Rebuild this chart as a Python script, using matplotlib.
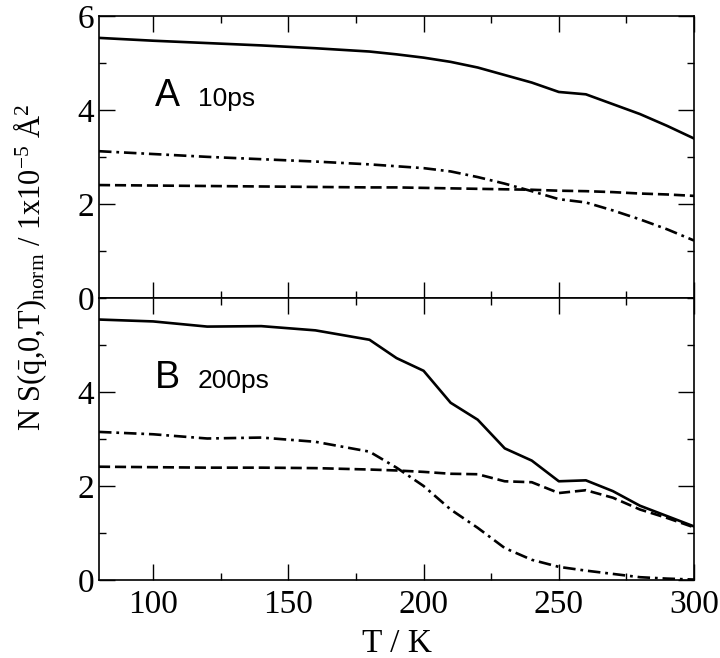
import matplotlib
matplotlib.use("Agg")
import matplotlib.pyplot as plt
from matplotlib.ticker import MultipleLocator

temps = [80, 100, 120, 140, 160, 180, 190, 200, 210, 220, 230, 240, 250, 260, 270, 280, 290, 300]

# panel A, 10ps
a_solid = [5.53, 5.47, 5.42, 5.37, 5.31, 5.24, 5.18, 5.11, 5.02, 4.90, 4.74, 4.58, 4.38, 4.33, 4.12, 3.91, 3.66, 3.39]
a_dashdot = [3.12, 3.06, 3.00, 2.95, 2.90, 2.84, 2.80, 2.76, 2.69, 2.57, 2.43, 2.27, 2.10, 2.03, 1.86, 1.67, 1.46, 1.22]
a_dashed = [2.40, 2.39, 2.38, 2.37, 2.36, 2.35, 2.35, 2.34, 2.33, 2.32, 2.31, 2.30, 2.28, 2.27, 2.25, 2.22, 2.20, 2.17]

# panel B, 200ps
b_solid = [5.54, 5.50, 5.39, 5.40, 5.31, 5.11, 4.72, 4.45, 3.77, 3.41, 2.80, 2.54, 2.10, 2.12, 1.89, 1.58, 1.36, 1.14]
b_dashdot = [3.15, 3.10, 3.01, 3.03, 2.94, 2.73, 2.39, 2.00, 1.50, 1.11, 0.68, 0.43, 0.28, 0.20, 0.13, 0.06, 0.03, 0.01]
b_dashed = [2.41, 2.40, 2.39, 2.39, 2.38, 2.35, 2.33, 2.30, 2.26, 2.25, 2.10, 2.08, 1.85, 1.91, 1.75, 1.50, 1.32, 1.12]

panel_letters = ["A", "B"]
panel_times = ["10ps", "200ps"]

plt.rcParams["font.family"] = ["Liberation Serif", "DejaVu Serif"]
plt.rcParams["mathtext.fontset"] = "custom"
plt.rcParams["mathtext.rm"] = "Liberation Serif"
plt.rcParams["mathtext.it"] = "Liberation Serif:italic"
plt.rcParams["lines.scale_dashes"] = False

fig, axes = plt.subplots(2, 1, figsize=(7.2, 6.58), dpi=100, sharex=True)
fig.subplots_adjust(left=0.1375, right=0.964, top=0.976, bottom=0.1185, hspace=0)

data = [(a_solid, a_dashdot, a_dashed), (b_solid, b_dashdot, b_dashed)]
lw = 1.9
for i, ax in enumerate(axes):
    solid, dashdot, dashed = data[i]
    ax.plot(temps, solid, color="black", lw=lw)
    ax.plot(temps, dashdot, color="black", lw=lw, dashes=(9, 3.5, 2, 3.5))
    ax.plot(temps, dashed, color="black", lw=lw, dashes=(8, 3.5))
    ax.set_xlim(80, 300)
    ax.set_ylim(0, 6)
    ax.xaxis.set_major_locator(MultipleLocator(50))
    ax.xaxis.set_minor_locator(MultipleLocator(25))
    ax.yaxis.set_major_locator(MultipleLocator(2))
    ax.yaxis.set_minor_locator(MultipleLocator(1))
    ax.tick_params(which="both", direction="in", top=True, right=True, width=1.0, labelsize=24)
    ax.tick_params(which="major", length=11.5)
    ax.tick_params(which="minor", length=5)
    ax.tick_params(axis="x", pad=7)
    for s in ax.spines.values():
        s.set_linewidth(1.2)
    ax.text(100.5, 4.08, panel_letters[i], family="Liberation Sans", fontsize=27)
    ax.text(116.5, 4.08, panel_times[i], family="Liberation Sans", fontsize=19)

axes[1].set_yticks([0, 2, 4])
axes[1].set_xlabel("T / K", fontsize=24, labelpad=6)
fig.text(0.041, 0.594, r"N S($\bar{\mathrm{q}}$,0,T)$_{\mathrm{norm}}$ / 1x10$^{-5}$ Å$^{2}$",
         rotation=90, ha="center", va="center", fontsize=22)

fig.savefig("out.png", dpi=100)
